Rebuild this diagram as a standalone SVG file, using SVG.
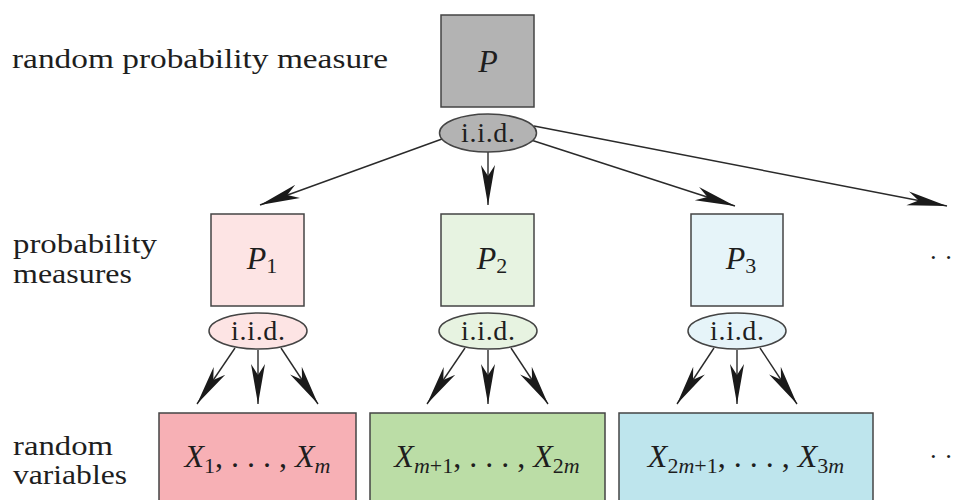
<svg xmlns="http://www.w3.org/2000/svg" width="954" height="500" viewBox="0 0 954 500">
<style>
  text { font-family: "Liberation Serif", "Times New Roman", serif; fill: #1e1e1e; }
  .lbl { font-size: 27px; }
  .iid { font-size: 28px; text-anchor: middle; }
  .math { font-size: 32px; text-anchor: middle; }
  .it { font-style: italic; }
  .sub { font-size: 22px; }
  .box { stroke: #444; stroke-width: 1.5; }
  .edge { stroke: #2a2a2a; stroke-width: 1.4; fill: none; marker-end: url(#stealth); }
  .dots { font-size: 26px; }
</style>
<defs>
  <marker id="stealth" markerUnits="userSpaceOnUse" viewBox="-42 -8 44 16" refX="0" refY="0" markerWidth="44" markerHeight="16" orient="auto">
    <path d="M0,0 L-40,-7 L-29,0 L-40,7 Z" fill="#1a1a1a"/>
  </marker>
</defs>
<rect width="954" height="500" fill="#ffffff"/>

<g id="row-labels">
  <text class="lbl" x="12" y="68" textLength="376" lengthAdjust="spacingAndGlyphs">random probability measure</text>
  <text class="lbl" x="13" y="253" textLength="144" lengthAdjust="spacingAndGlyphs">probability</text>
  <text class="lbl" x="13" y="283" textLength="119" lengthAdjust="spacingAndGlyphs">measures</text>
  <text class="lbl" x="13" y="455" textLength="100" lengthAdjust="spacingAndGlyphs">random</text>
  <text class="lbl" x="13" y="484" textLength="114" lengthAdjust="spacingAndGlyphs">variables</text>
</g>

<g id="connectors">
  <line class="edge" x1="442" y1="139" x2="260" y2="205"/>
  <line class="edge" x1="488" y1="152" x2="488" y2="205"/>
  <line class="edge" x1="531" y1="140" x2="735" y2="206"/>
  <line class="edge" x1="534" y1="126" x2="947" y2="206"/>
  <line class="edge" x1="235" y1="348" x2="197" y2="404"/>
  <line class="edge" x1="258" y1="350" x2="258" y2="404"/>
  <line class="edge" x1="281" y1="348" x2="318" y2="404"/>
  <line class="edge" x1="465" y1="348" x2="427" y2="404"/>
  <line class="edge" x1="488" y1="350" x2="488" y2="404"/>
  <line class="edge" x1="511" y1="348" x2="548" y2="404"/>
  <line class="edge" x1="714" y1="348" x2="677" y2="404"/>
  <line class="edge" x1="737" y1="350" x2="737" y2="404"/>
  <line class="edge" x1="760" y1="348" x2="797" y2="404"/>
</g>

<g id="P">
  <rect class="box" x="441" y="15" width="93" height="92" fill="#b3b3b3"/>
  <text class="math it" x="488" y="72" font-size="33">P</text>
</g>
<g id="iid-top">
  <ellipse class="box" cx="488" cy="133" rx="48.5" ry="19" fill="#b3b3b3"/>
  <text class="iid" x="488" y="142" textLength="54">i.i.d.</text>
</g>
<g id="P1">
  <rect class="box" x="211" y="214" width="93" height="92" fill="#fde4e4"/>
  <text class="math" x="262" y="269"><tspan class="it">P</tspan><tspan class="sub" dy="4">1</tspan></text>
</g>
<g id="iid-1">
  <ellipse class="box" cx="258" cy="331" rx="49" ry="18" fill="#fde4e4"/>
  <text class="iid" x="258" y="340" textLength="54">i.i.d.</text>
</g>
<g id="P2">
  <rect class="box" x="441" y="214" width="93" height="92" fill="#e7f3e1"/>
  <text class="math" x="492" y="269"><tspan class="it">P</tspan><tspan class="sub" dy="4">2</tspan></text>
</g>
<g id="iid-2">
  <ellipse class="box" cx="488" cy="331" rx="49" ry="18" fill="#e7f3e1"/>
  <text class="iid" x="488" y="340" textLength="54">i.i.d.</text>
</g>
<g id="P3">
  <rect class="box" x="691" y="214" width="92" height="92" fill="#e6f4f9"/>
  <text class="math" x="741" y="269"><tspan class="it">P</tspan><tspan class="sub" dy="4">3</tspan></text>
</g>
<g id="iid-3">
  <ellipse class="box" cx="737" cy="331" rx="49" ry="18" fill="#e6f4f9"/>
  <text class="iid" x="737" y="340" textLength="54">i.i.d.</text>
</g>
<g id="dots-mid">
  <text class="dots" x="929" y="266">· ·</text>
</g>
<g id="X1">
  <rect class="box" x="159" y="413" width="197" height="100" fill="#f7b0b5"/>
  <text class="math" x="257.5" y="467"><tspan class="it">X</tspan><tspan class="sub" dy="6">1</tspan><tspan dy="-6">, . . . , </tspan><tspan class="it">X</tspan><tspan class="sub it" dy="6">m</tspan></text>
</g>
<g id="X2">
  <rect class="box" x="370" y="413" width="235" height="100" fill="#bbdda6"/>
  <text class="math" x="487" y="467"><tspan class="it">X</tspan><tspan class="sub" dy="6"><tspan class="it">m</tspan>+1</tspan><tspan dy="-6">, . . . , </tspan><tspan class="it">X</tspan><tspan class="sub" dy="6">2<tspan class="it">m</tspan></tspan></text>
</g>
<g id="X3">
  <rect class="box" x="619" y="413" width="254" height="100" fill="#bee5ed"/>
  <text class="math" x="746" y="467"><tspan class="it">X</tspan><tspan class="sub" dy="6">2<tspan class="it">m</tspan>+1</tspan><tspan dy="-6">, . . . , </tspan><tspan class="it">X</tspan><tspan class="sub" dy="6">3<tspan class="it">m</tspan></tspan></text>
</g>
<g id="dots-bottom">
  <text class="dots" x="929" y="465">· ·</text>
</g>
</svg>
